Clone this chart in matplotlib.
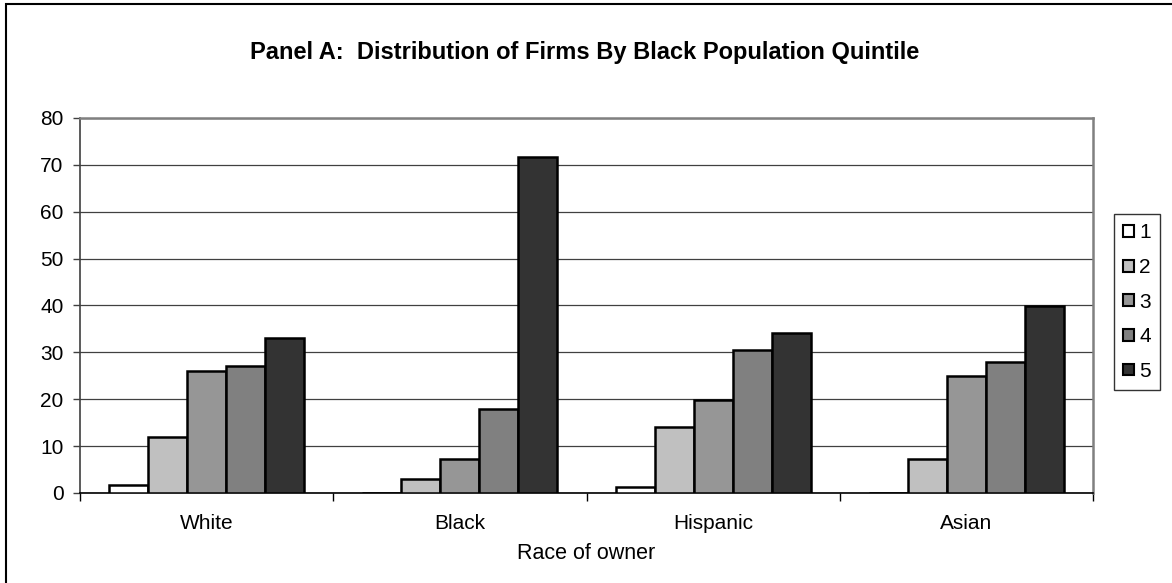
import numpy as np
import matplotlib.pyplot as plt
from matplotlib.patches import Rectangle

plt.rcParams['font.family'] = ['Liberation Sans', 'DejaVu Sans']

# data
races = ['White', 'Black', 'Hispanic', 'Asian']
quintiles = ['1', '2', '3', '4', '5']
q1 = [1.7, 0.0, 1.2, 0.0]
q2 = [12.0, 2.9, 14.1, 7.2]
q3 = [26.1, 7.3, 19.8, 24.9]
q4 = [27.1, 17.9, 30.5, 27.9]
q5 = [33.0, 71.6, 34.2, 39.9]
series = [q1, q2, q3, q4, q5]
colors = ['#FFFFFF', '#C0C0C0', '#969696', '#808080', '#333333']

fig = plt.figure(figsize=(11.72, 5.83), dpi=100)
ax = fig.add_axes([0.0683, 0.1544, 0.8643, 0.6432])

x = np.arange(len(races))
w = 0.154
for i, vals in enumerate(series):
    ax.bar(x + (i - 2) * w, vals, width=w, color=colors[i], edgecolor='black',
           linewidth=1.8, label=quintiles[i], zorder=3)

ax.set_xlim(-0.5, 3.5)
ax.set_ylim(0, 80)
ax.set_yticks(range(0, 81, 10))
ax.yaxis.grid(True, color='#404040', linewidth=0.9, zorder=0)
ax.set_xticks(x)
ax.set_xticklabels(races, fontsize=15)
ax.tick_params(axis='x', length=0, pad=15)
# group separator ticks
ax.set_xticks(np.arange(-0.5, 4.0, 1.0), minor=True)
ax.tick_params(axis='x', which='minor', length=6, width=1, color='black', direction='out')
ax.tick_params(axis='y', labelsize=15, length=5, width=1, pad=7, direction='out', color='#404040')

for s in ['top', 'right']:
    ax.spines[s].set_color('#808080')
    ax.spines[s].set_linewidth(1.8)
ax.spines['left'].set_color('#404040')
ax.spines['left'].set_linewidth(1.2)
ax.spines['bottom'].set_color('black')
ax.spines['bottom'].set_linewidth(1.2)

ax.set_xlabel('Race of owner', fontsize=15.5, labelpad=7)

fig.text(0.499, 0.91, 'Panel A:  Distribution of Firms By Black Population Quintile',
         ha='center', va='center', fontsize=17, fontweight='bold')

leg = ax.legend(loc='upper left', bbox_to_anchor=(1114 / 1172, 1 - 214 / 583),
                bbox_transform=fig.transFigure, fontsize=15,
                frameon=True, fancybox=False, edgecolor='black', handlelength=0.5,
                handleheight=0.5, handletextpad=0.25, labelspacing=0.75,
                borderpad=0.45, borderaxespad=0)
leg.get_frame().set_linewidth(1.0)
for h in leg.legend_handles:
    h.set_linewidth(1.5)

# outer chart border
fig.patches.append(Rectangle((0.005, -0.01), 1.02, 1.003, transform=fig.transFigure,
                             fill=False, edgecolor='black', linewidth=1.5))

fig.savefig('out.png', dpi=100)
